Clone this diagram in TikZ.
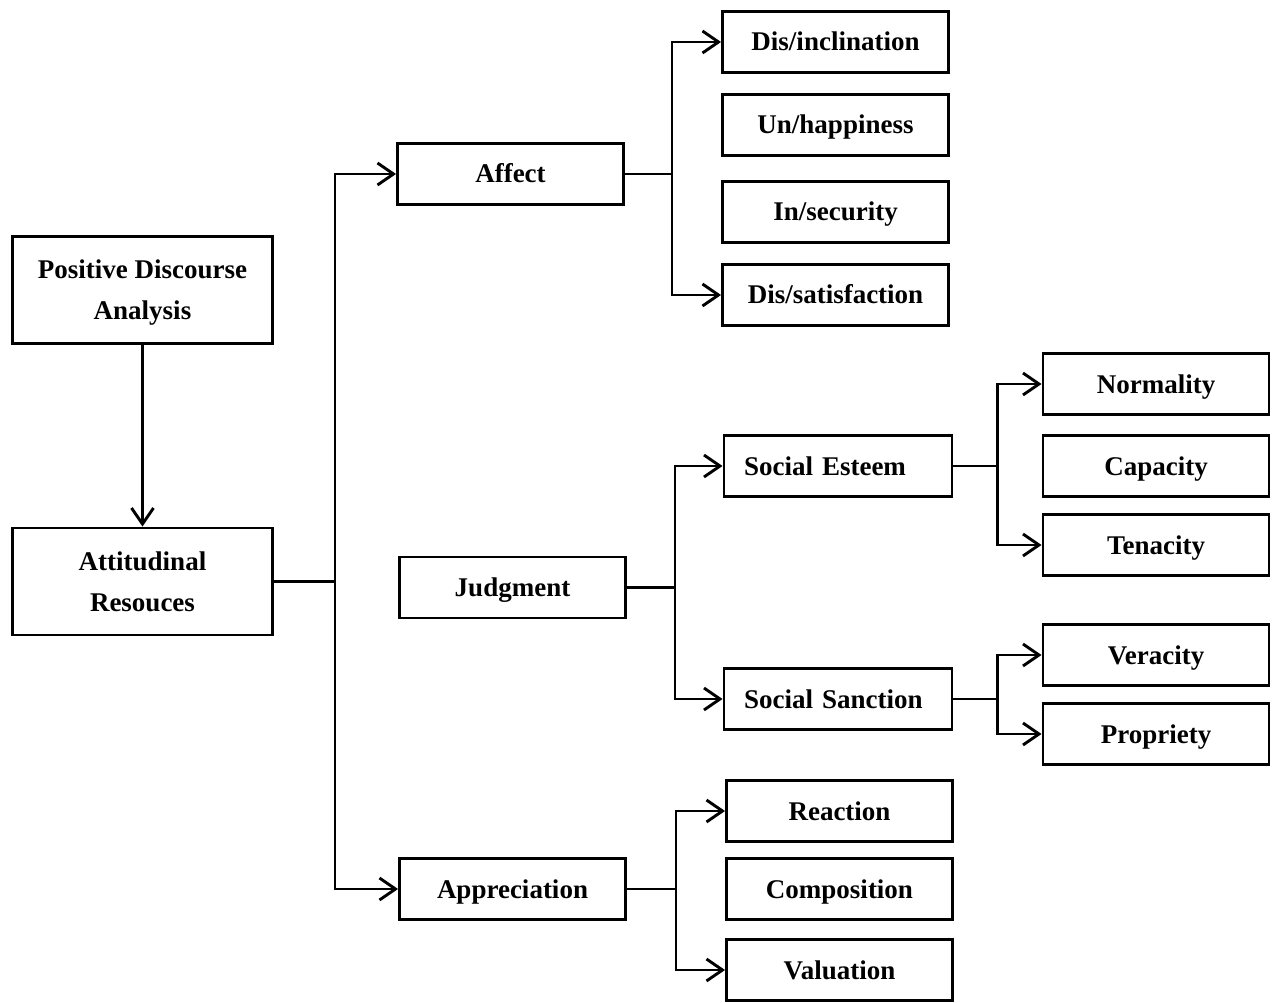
\documentclass[tikz,border=0pt]{standalone}
\usepackage{fontspec}
\setmainfont{Liberation Serif}
\usetikzlibrary{arrows.meta}
\begin{document}
\begin{tikzpicture}[x=1pt,y=-1pt,
  basebox/.style={draw,line width=2.9pt,font=\fontsize{27}{41}\selectfont\bfseries,
    inner sep=0pt,align=center},
  box/.style={basebox,minimum width=226pt,minimum height=61pt,text height=20pt,text depth=2pt},
  bigbox/.style={basebox,minimum width=260pt,minimum height=107pt},
  leftbox/.style={box,align=left,text width=188pt,inner xsep=20pt},
  conn/.style={line width=2.9pt},
  arr/.style={conn,-{Straight Barb[length=16pt,width=22pt]}}]
\useasboundingbox (0,0) rectangle (1275,1003);

% left column
\node[bigbox] (pda) at (142.5,290) {Positive Discourse\\\smash{Analysis}};
\node[bigbox] (ar) at (142.5,581.5) {Attitudinal\\Resouces};

% second column
\node[box] (affect) at (510.5,174) {Affect};
\node[box] (judg) at (512.5,587.5) {Judgment};
\node[box] (appr) at (512.5,889) {Appreciation};

% affect children
\node[box] (disincl) at (835.5,42) {Dis/inclination};
\node[box] (unhap) at (835.5,125) {Un/happiness};
\node[box] (insec) at (835.5,212) {In/security};
\node[box] (dissat) at (835.5,295) {Dis/satisfaction};

% judgment children
\node[leftbox] (se) at (838,466) {Social Esteem};
\node[leftbox] (ss) at (838,699) {Social Sanction};

\node[box] (norm) at (1156,384) {Normality};
\node[box] (cap) at (1156,466) {Capacity};
\node[box] (ten) at (1156,545) {Tenacity};
\node[box] (ver) at (1156,655) {Veracity};
\node[box] (prop) at (1156,734) {Propriety};

% appreciation children
\node[box] (react) at (839.5,811) {Reaction};
\node[box] (comp) at (839.5,889) {Composition};
\node[box] (val) at (839.5,970) {Valuation};

% connectors
\draw[arr] (pda.south) -- (ar.north);

\draw[conn] (ar.east) -- (335,581.5) coordinate (j1);
\draw[arr] (j1) |- (affect.west);
\draw[arr] (j1) |- (appr.west);

\draw[conn] (affect.east) -- ++(47,0) coordinate (j2);
\draw[arr] (j2) |- (disincl.west);
\draw[arr] (j2) |- (dissat.west);

\draw[conn] (judg.east) -- ++(48,0) coordinate (j3);
\draw[arr] (j3) |- (se.west);
\draw[arr] (j3) |- (ss.west);

\draw[conn] (se.east) -- ++(44,0) coordinate (j4);
\draw[arr] (j4) |- (norm.west);
\draw[arr] (j4) |- (ten.west);

\draw[conn] (ss.east) -- ++(44,0) coordinate (j5);
\draw[arr] (j5) |- (ver.west);
\draw[arr] (j5) |- (prop.west);

\draw[conn] (appr.east) -- ++(49,0) coordinate (j6);
\draw[arr] (j6) |- (react.west);
\draw[arr] (j6) |- (val.west);
\end{tikzpicture}
\end{document}
